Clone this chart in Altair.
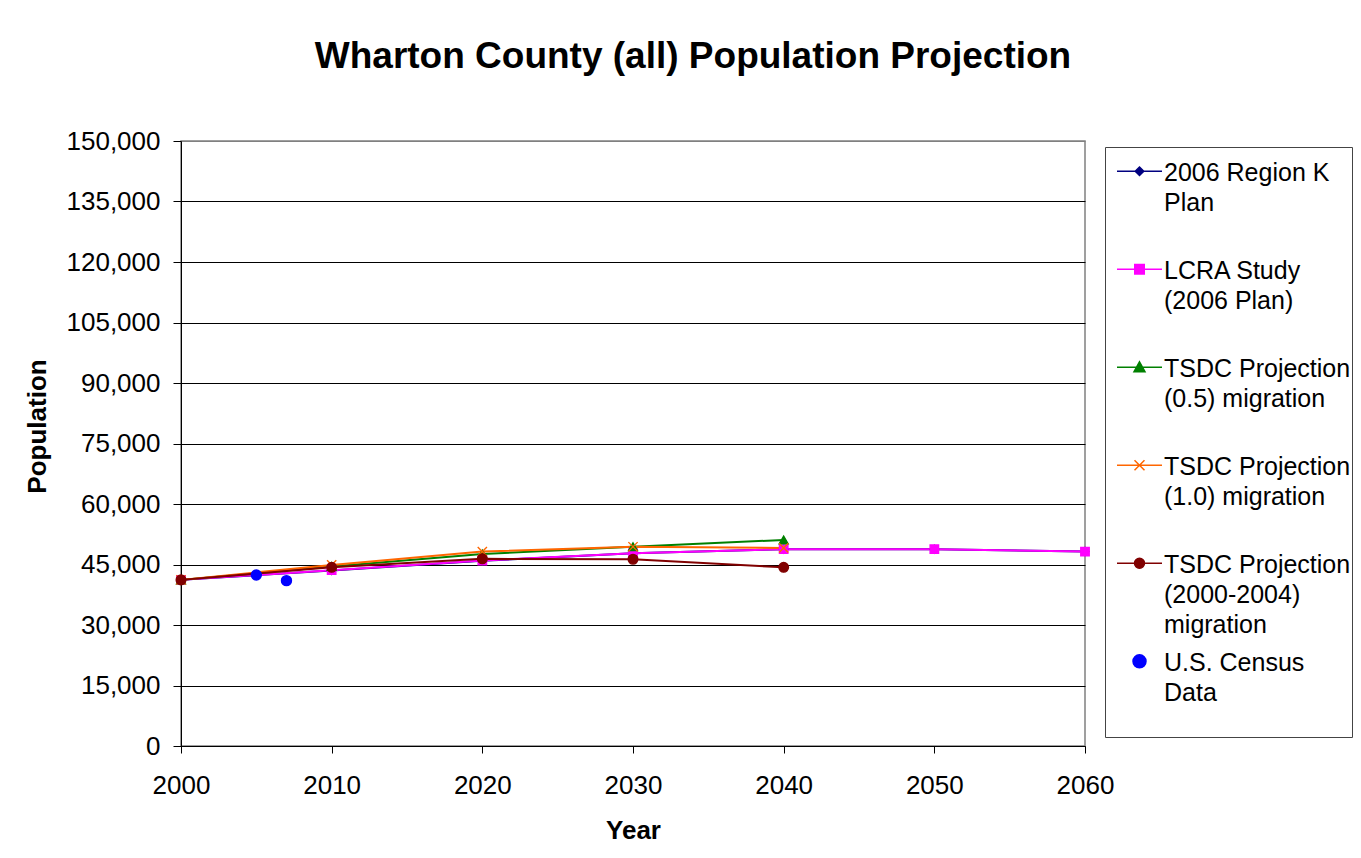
import altair as alt
import pandas as pd

# ---- data ----
years = [2000, 2010, 2020, 2030, 2040, 2050, 2060]
region_k_plan = [41188, 43500, 45900, 47800, 48800, 48800, 48200]
lcra_study = [41188, 43600, 46000, 47800, 48800, 48800, 48200]
tsdc_years = [2000, 2010, 2020, 2030, 2040]
tsdc_half_migration = [41188, 44500, 47600, 49400, 51100]
tsdc_full_migration = [41188, 44900, 48200, 49400, 49100]
tsdc_2000_2004_migration = [41188, 44300, 46400, 46300, 44300]
census_years = [2005, 2007]
census_population = [42400, 41000]

series_names = [
    "2006 Region K|Plan",
    "LCRA Study|(2006 Plan)",
    "TSDC Projection|(0.5) migration",
    "TSDC Projection|(1.0) migration",
    "TSDC Projection|(2000-2004)|migration",
    "U.S. Census|Data| ",
]
series_colors = ["#000080", "#FF00FF", "#008000", "#FF6600", "#800000", "#0000FF"]

series_data = [
    (series_names[0], years, region_k_plan),
    (series_names[1], years, lcra_study),
    (series_names[2], tsdc_years, tsdc_half_migration),
    (series_names[3], tsdc_years, tsdc_full_migration),
    (series_names[4], tsdc_years, tsdc_2000_2004_migration),
    (series_names[5], census_years, census_population),
]
rows = []
for name, xs, ys in series_data:
    for xv, yv in zip(xs, ys):
        rows.append({"series": name, "year": xv, "population": yv})
df = pd.DataFrame(rows)

FONT = "Liberation Sans"

# ---- marker styles ----
marker_shapes = ["diamond", "square", "triangle-up", "M-1,-1L1,1M-1,1L1,-1", "circle", "circle"]
marker_sizes = [64, 100, 115, 95, 120, 200]

# legend symbols: unit = 5px (symbolSize 100), line + marker, shifted right/down
LX0, LX1, LXC, LDY = -0.3, 8.7, 4.2, 2.16


def legend_path(kind):
    def p(v):
        return f"{v:.3f}"
    line = f"M{p(LX0)},{p(LDY)}H{p(LX1)}"
    c, d = LXC, LDY
    if kind == "diamond":
        r = 0.85
        return line + f"M{p(c)},{p(d - r)}L{p(c + r)},{p(d)}L{p(c)},{p(d + r)}L{p(c - r)},{p(d)}Z"
    if kind == "square":
        r = 0.95
        return line + f"M{p(c - r)},{p(d - r)}H{p(c + r)}V{p(d + r)}H{p(c - r)}Z"
    if kind == "triangle":
        r = 1.1
        return line + f"M{p(c)},{p(d - r)}L{p(c + r)},{p(d + 0.8 * r)}H{p(c - r)}Z"
    if kind == "x":
        r = 1.0
        return (line + f"M{p(c - r)},{p(d - r)}L{p(c + r)},{p(d + r)}"
                f"M{p(c - r)},{p(d + r)}L{p(c + r)},{p(d - r)}")
    if kind == "dot":
        r = 1.0
        return (line + f"M{p(c + r)},{p(d)}A{r},{r},0,1,1,{p(c - r)},{p(d)}"
                f"A{r},{r},0,1,1,{p(c + r)},{p(d)}Z")
    r = 1.3
    return (f"M{p(c + r)},{p(d)}A{r},{r},0,1,1,{p(c - r)},{p(d)}"
            f"A{r},{r},0,1,1,{p(c + r)},{p(d)}Z")


legend_shapes = [legend_path(k) for k in ["diamond", "square", "triangle", "x", "dot", "census"]]

x_enc = alt.X(
    "year:Q",
    scale=alt.Scale(domain=[2000, 2060], nice=False, zero=False),
    axis=alt.Axis(
        values=list(range(2000, 2061, 10)),
        format="d",
        title="Year",
        grid=False,
        tickSize=7,
        labelPadding=19,
        labelFlush=False,
        titleX=452,
        titleY=84,
        titleBaseline="middle",
        titleAnchor="middle",
    ),
)
y_enc = alt.Y(
    "population:Q",
    scale=alt.Scale(domain=[0, 150000], nice=False),
    axis=alt.Axis(
        values=list(range(0, 150001, 15000)),
        format=",d",
        title="Population",
        grid=True,
        gridColor={"condition": {"test": "datum.value >= 150000", "value": "#808080"}, "value": "#000000"},
        gridWidth=1,
        tickSize=8,
        labelPadding=13,
        labelFlush=False,
        titleX=-144,
        titleY=285,
        titleBaseline="middle",
        titleAnchor="middle",
    ),
)

lines = (
    alt.Chart(df)
    .transform_filter(alt.datum.series != series_names[5])
    .mark_line(strokeWidth=2)
    .encode(
        x=x_enc,
        y=y_enc,
        color=alt.Color("series:N", scale=alt.Scale(domain=series_names, range=series_colors), legend=None),
    )
)

points = (
    alt.Chart(df)
    .mark_point(filled=True, strokeWidth=1.4, opacity=1)
    .encode(
        x=x_enc,
        y=y_enc,
        fill=alt.Fill("series:N", scale=alt.Scale(domain=series_names, range=series_colors), legend=None),
        stroke=alt.Stroke("series:N", scale=alt.Scale(domain=series_names, range=series_colors), legend=None),
        shape=alt.Shape("series:N", scale=alt.Scale(domain=series_names, range=marker_shapes), legend=None),
        size=alt.Size("series:N", scale=alt.Scale(domain=series_names, range=marker_sizes), legend=None),
    )
)

legend_props = dict(
    title=None,
    orient="none",
    legendX=924,
    legendY=6,
    direction="vertical",
    labelExpr="split(datum.label, '|')",
    labelFont=FONT,
    labelFontSize=25,
    labelColor="#000000",
    labelBaseline="top",
    labelLimit=600,
    labelOffset=33,
    symbolSize=100,
    symbolStrokeWidth=1.5,
    symbolOpacity=1,
    padding=1,
    rowPadding=0,
    gridAlign="all",
    strokeColor="#444444",
    fillColor="#FFFFFF",
)

legend_layer = (
    alt.Chart(df)
    .transform_filter("false")
    .mark_point(filled=True)
    .encode(
        x=x_enc,
        y=y_enc,
        fill=alt.Fill("series:N", scale=alt.Scale(domain=series_names, range=series_colors),
                      legend=alt.Legend(**legend_props)),
        stroke=alt.Stroke("series:N", scale=alt.Scale(domain=series_names, range=series_colors),
                          legend=alt.Legend(**legend_props)),
        shape=alt.Shape("series:N", scale=alt.Scale(domain=series_names, range=legend_shapes),
                        legend=alt.Legend(**legend_props)),
    )
)

chart = (
    alt.layer(lines, points, legend_layer)
    .resolve_scale(shape="independent", fill="independent", stroke="independent")
    .properties(
        width=904,
        height=605,
        autosize=alt.AutoSizeParams(type="none"),
        padding={"left": 173, "top": 133, "right": 268, "bottom": 98},
        title=alt.TitleParams(
            "Wharton County (all) Population Projection",
            font=FONT,
            fontSize=37,
            fontWeight="bold",
            color="#000000",
            anchor="middle",
            frame="group",
            dx=60,
            offset=52,
        ),
    )
    .configure(background="#FFFFFF", style={"guide-label": {"lineHeight": 30}})
    .configure_view(stroke="#808080", strokeWidth=1.5)
    .configure_axis(
        labelFont=FONT,
        labelFontSize=26,
        labelColor="#000000",
        titleFont=FONT,
        titleFontSize=26,
        titleFontWeight="bold",
        titleColor="#000000",
        domainColor="#000000",
        tickColor="#000000",
    )
)

chart.save("out.html", embed_options={"renderer": "svg", "actions": False})
